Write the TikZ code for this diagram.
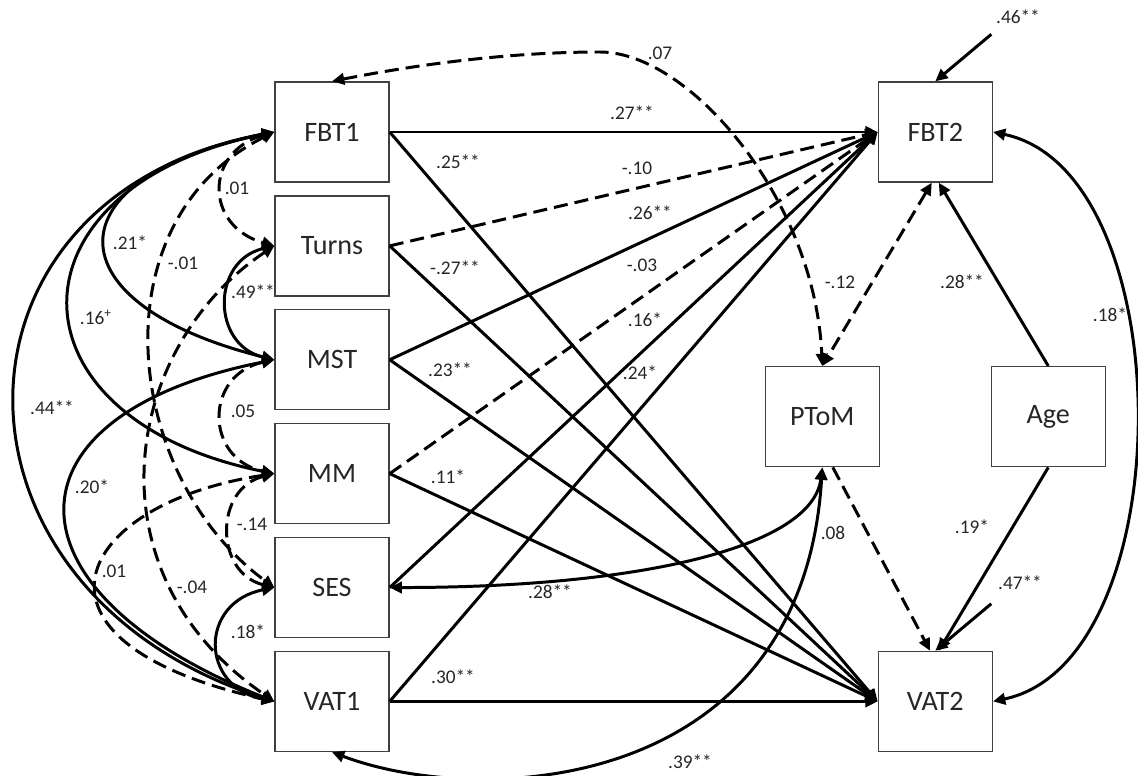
\documentclass[tikz,border=0pt]{standalone}
\usepackage{fontspec}
\setmainfont{Carlito}
\usetikzlibrary{arrows.meta, positioning, calc}
\definecolor{boxgray}{HTML}{404040}
\definecolor{txtgray}{HTML}{262626}

\begin{document}
\begin{tikzpicture}[
      x=0.02cm, y=-0.02cm,
      obs/.style={rectangle, draw=boxgray, line width=0.8pt, minimum width=2.28cm, minimum height=2cm, font=\fontsize{16}{19}\selectfont, text=txtgray},
      lbl/.style={font=\fontsize{11}{13}\selectfont, text=txtgray, inner sep=1pt},
      reg/.style={->, line width=1.7pt},
      cov/.style={<->, line width=1.7pt},
      dsh/.style={dash pattern=on 8pt off 4pt},
      >={Triangle[length=7pt, width=6.5pt]},
      node distance=0.25cm and 9.76cm
    ]
    \useasboundingbox (0,0) rectangle (1138,776);

    % Time 1 measures
    \node[obs] (FBT1) at (332,132) {FBT1};
    \node[obs, below=of FBT1]  (Turns) {Turns};
    \node[obs, below=of Turns] (MST)   {MST};
    \node[obs, below=of MST]   (MM)    {MM};
    \node[obs, below=of MM]    (SES)   {SES};
    \node[obs, below=of SES]   (VAT1)  {VAT1};

    % Time 2 outcomes, PToM and age
    \node[obs, right=of FBT1] (FBT2) {FBT2};
    \node[obs, right=of VAT1] (VAT2) {VAT2};
    \node[obs] (PToM) at ($(FBT2)!0.5!(VAT2)+(-113,0)$) {PToM};
    \node[obs] (Age)  at ($(FBT2)!0.5!(VAT2)+(113,0)$)  {Age};

    \coordinate (eF) at ($(FBT2.north)+(56,-47)$);
    \coordinate (eV) at ($(VAT2.north)+(56,-47)$);
    \coordinate (top07) at (600,52);

    % Paths to FBT2
    \draw[reg] (FBT1.east) -- (FBT2.west) node[lbl] at (632,113) {.27**};
    \draw[reg, dsh] (Turns.east) -- (FBT2.west) node[lbl] at (637,168) {-.10};
    \draw[reg] (MST.east) -- (FBT2.west) node[lbl] at (650,213) {.26**};
    \draw[reg, dsh] (MM.east) -- (FBT2.west) node[lbl] at (642,265) {-.03};
    \draw[reg] (SES.east) -- (FBT2.west) node[lbl] at (645,320) {.16*};
    \draw[reg] (VAT1.east) -- (FBT2.west) node[lbl] at (640,373) {.24*};

    % Paths to VAT2
    \draw[reg] (FBT1.east) -- (VAT2.west) node[lbl] at (458,162) {.25**};
    \draw[reg] (Turns.east) -- (VAT2.west) node[lbl] at (455,268) {-.27**};
    \draw[reg] (MST.east) -- (VAT2.west) node[lbl] at (450,370) {.23**};
    \draw[reg] (MM.east) -- (VAT2.west) node[lbl] at (448,477) {.11*};
    \draw[reg] (VAT1.east) -- (VAT2.west) node[lbl] at (453,677) {.30**};

    % Age and residuals
    \draw[reg] (Age.north) -- ([xshift=2pt]FBT2.south) node[lbl] at (962,282) {.28**};
    \draw[reg] (Age.south) -- ([xshift=2pt]VAT2.north) node[lbl] at (972,527) {.19*};
    \draw[reg] (eF) -- (FBT2.north) node[lbl] at (1018,17) {.46**};
    \draw[reg] (eV) -- (VAT2.north) node[lbl] at (1020,583) {.47**};

    % PToM
    \draw[cov, dsh] ([xshift=-2pt]FBT2.south) -- (PToM.north) node[lbl] at (840,282) {-.12};
    \draw[reg, dsh] ([xshift=6pt]PToM.south) -- ([xshift=-3pt]VAT2.north) node[lbl] at (833,533) {.08};
    \draw[cov] (PToM.south) .. controls +(-10,80) and +(250,0) .. (SES.east) node[lbl] at (550,592) {.28**};
    \draw[cov] (PToM.south) .. controls +(-20,327) and +(148,56) .. (VAT1.south) node[lbl] at (690,762) {.39**};
    \draw[cov, dsh] (FBT1.north) .. controls (430,62) and (520,52) .. (top07)
                    .. controls (690,52) and (815,200) .. (PToM.north) node[lbl] at (660,53) {.07};
    \draw[cov] (FBT2.east) .. controls +(190,40) and +(190,-40) .. (VAT2.east) node[lbl] at (1110,315) {.18*};

    % Correlations among time 1 measures
    \draw[cov, dsh] (FBT1.west) .. controls +(-70,20) and +(-70,-20) .. (Turns.west) node[lbl] at (237,188) {.01};
    \draw[cov] (Turns.west) .. controls +(-63,15) and +(-63,-15) .. (MST.west) node[lbl] at (253,292) {.49**};
    \draw[cov, dsh] (MST.west) .. controls +(-70,15) and +(-70,-15) .. (MM.west) node[lbl] at (243,411) {.05};
    \draw[cov, dsh] (MM.west) .. controls +(-60,15) and +(-60,-15) .. (SES.west) node[lbl] at (252,524) {-.14};
    \draw[cov] (SES.west) .. controls +(-75,15) and +(-75,-15) .. (VAT1.west) node[lbl] at (248,632) {.18*};
    \draw[cov] (FBT1.west) .. controls +(-225,45) and +(-225,-56) .. (MST.west) node[lbl] at (130,243) {.21*};
    \draw[cov] (FBT1.west) .. controls +(-273,55) and +(-273,-55) .. (MM.west) node[lbl] at (96,317) {.16\textsuperscript{+}};
    \draw[cov] (FBT1.west) .. controls +(-345,65) and +(-345,-110) .. (VAT1.west) node[lbl] at (52,408) {.44**};
    \draw[cov] (MST.west) .. controls +(-277,55) and +(-277,-110) .. (VAT1.west) node[lbl] at (92,487) {.20*};
    \draw[cov, dsh] (FBT1.west) .. controls +(-180,90) and +(-150,-110) .. (SES.west) node[lbl] at (183,263) {-.01};
    \draw[cov, dsh] (Turns.west) .. controls +(-150,100) and +(-190,-130) .. (VAT1.west) node[lbl] at (192,587) {-.04};
    \draw[cov, dsh] (MM.west) .. controls +(-200,30) and +(-270,-60) .. (VAT1.west) node[lbl] at (114,571) {.01};

  \end{tikzpicture}
\end{document}
